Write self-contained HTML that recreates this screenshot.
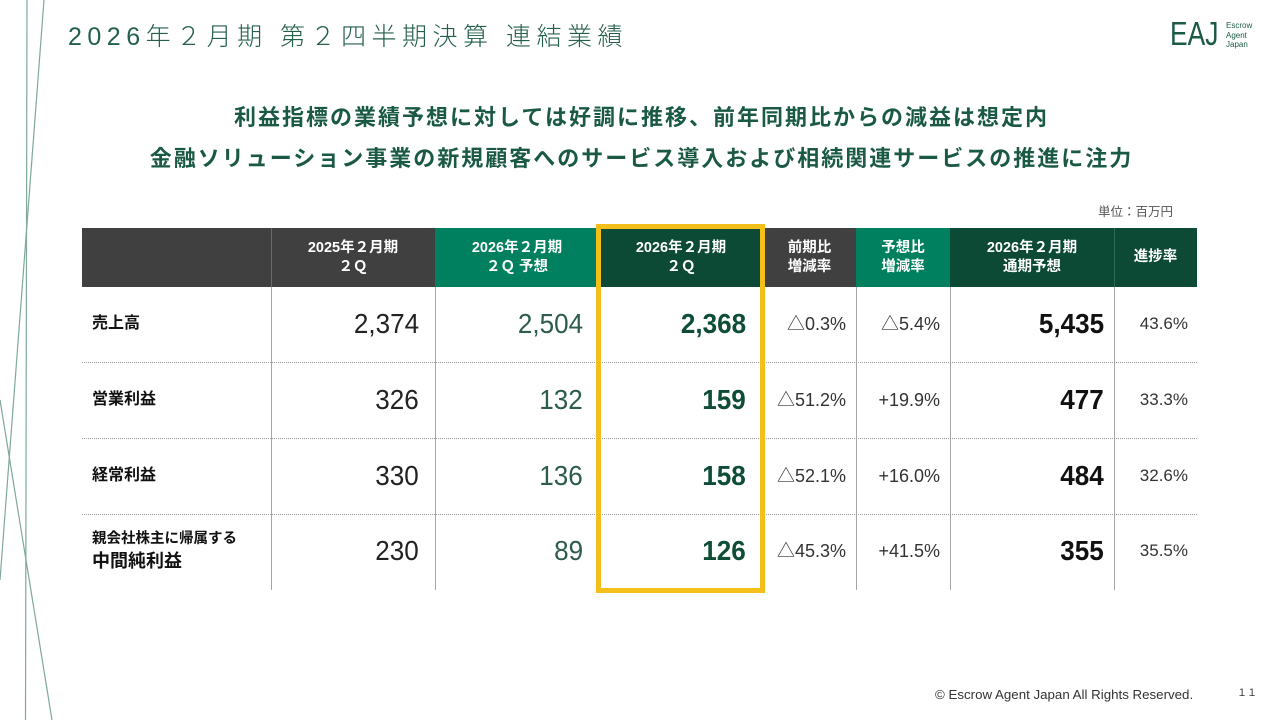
<!DOCTYPE html>
<html><head><meta charset="utf-8">
<style>
html,body{margin:0;padding:0;}
body{width:1280px;height:720px;background:#fff;position:relative;overflow:hidden;font-family:"Liberation Sans","Noto Sans CJK JP",sans-serif;}
.a{position:absolute;white-space:nowrap;}
.hb{position:absolute;top:228px;height:59px;}
.h{position:absolute;top:228px;height:59px;color:#fff;font-weight:bold;font-size:14.5px;line-height:19px;text-align:center;display:flex;flex-direction:column;align-items:center;justify-content:center;}
.vl{position:absolute;top:287px;height:303px;width:1px;background:#a6a6a6;}
.dl{position:absolute;left:82px;width:1115px;height:0;border-top:1px dotted #9a9a9a;}
.lab{position:absolute;left:92px;font-weight:bold;font-size:16px;color:#111;line-height:20px;}
.n{position:absolute;text-align:right;white-space:nowrap;font-size:28px;line-height:30px;}
.n span{display:inline-block;transform:scaleX(0.93);transform-origin:right center;}
.p{position:absolute;text-align:right;white-space:nowrap;font-size:18px;line-height:22px;color:#333;}
.q{position:absolute;text-align:right;white-space:nowrap;font-size:17px;line-height:22px;color:#333;}
</style></head><body>

<!-- decorative lines -->
<svg class="a" style="left:0;top:0" width="80" height="720">
<line x1="27" y1="0" x2="25.5" y2="720" stroke="#7fa898" stroke-width="1.2"/>
<line x1="44" y1="0" x2="0" y2="580" stroke="#7fa898" stroke-width="1.2"/>
<line x1="0" y1="400" x2="52" y2="720" stroke="#7fa898" stroke-width="1.2"/>
</svg>

<!-- title -->
<div class="a" style="left:68px;top:22px;font-size:25px;line-height:30px;letter-spacing:5.5px;color:#245f4c;font-weight:300;">2026年２月期 第２四半期決算 連結業績</div>

<!-- logo -->
<div class="a" style="left:1170px;top:16px;font-size:33px;line-height:36px;color:#1b5a44;transform:scaleX(0.8);transform-origin:left top;">EAJ</div>
<div class="a" style="left:1226px;top:21px;font-size:8px;line-height:9.5px;color:#1b5a44;">Escrow<br>Agent<br>Japan</div>

<!-- subtitles -->
<div class="a" style="left:0;width:1283px;top:104px;text-align:center;font-size:22px;line-height:28px;letter-spacing:2px;font-weight:bold;color:#1a5a45;">利益指標の業績予想に対しては好調に推移、前年同期比からの減益は想定内</div>
<div class="a" style="left:0;width:1283px;top:145px;text-align:center;font-size:22px;line-height:28px;letter-spacing:2px;font-weight:bold;color:#1a5a45;">金融ソリューション事業の新規顧客へのサービス導入および相続関連サービスの推進に注力</div>

<!-- unit -->
<div class="a" style="left:1098px;top:203px;font-size:12.5px;line-height:18px;color:#555;">単位：百万円</div>

<!-- header backgrounds -->
<div class="hb" style="left:82px;width:353px;background:#404040;"></div>
<div class="hb" style="left:435px;width:164px;background:#00805e;"></div>
<div class="hb" style="left:599px;width:164px;background:#0c4a36;"></div>
<div class="hb" style="left:763px;width:93px;background:#404040;"></div>
<div class="hb" style="left:856px;width:94px;background:#00805e;"></div>
<div class="hb" style="left:950px;width:247px;background:#0c4a36;"></div>
<div class="hb" style="left:271px;width:1px;background:#6a6a6a;"></div>
<div class="hb" style="left:1114px;width:1px;background:#2f6a55;"></div>

<!-- header text -->
<div class="h" style="left:271px;width:164px;"><div>2025年２月期</div><div>２Ｑ</div></div>
<div class="h" style="left:435px;width:164px;"><div>2026年２月期</div><div>２Ｑ 予想</div></div>
<div class="h" style="left:599px;width:164px;"><div>2026年２月期</div><div>２Ｑ</div></div>
<div class="h" style="left:763px;width:93px;"><div>前期比</div><div>増減率</div></div>
<div class="h" style="left:856px;width:94px;"><div>予想比</div><div>増減率</div></div>
<div class="h" style="left:950px;width:164px;"><div>2026年２月期</div><div>通期予想</div></div>
<div class="h" style="left:1114px;width:83px;"><div>進捗率</div></div>

<!-- grid lines -->
<div class="vl" style="left:271px;"></div>
<div class="vl" style="left:435px;"></div>
<div class="vl" style="left:856px;"></div>
<div class="vl" style="left:950px;"></div>
<div class="vl" style="left:1114px;"></div>
<div class="dl" style="top:362px;"></div>
<div class="dl" style="top:438px;"></div>
<div class="dl" style="top:514px;"></div>

<!-- row labels -->
<div class="lab" style="top:314px;">売上高</div>
<div class="lab" style="top:390px;">営業利益</div>
<div class="lab" style="top:466px;">経常利益</div>
<div class="lab" style="top:530px;font-size:14.5px;line-height:19px;">親会社株主に帰属する</div>
<div class="lab" style="top:550px;font-size:18px;line-height:22px;">中間純利益</div>

<!-- row 1 -->
<div class="n" style="right:861px;top:309px;color:#222;"><span>2,374</span></div>
<div class="n" style="right:697px;top:309px;color:#2d5c4c;"><span>2,504</span></div>
<div class="n" style="right:534px;top:309px;color:#0f4d36;font-weight:bold;"><span>2,368</span></div>
<div class="p" style="right:434px;top:313px;">△0.3%</div>
<div class="p" style="right:340px;top:313px;">△5.4%</div>
<div class="n" style="right:176px;top:309px;color:#111;font-weight:bold;"><span>5,435</span></div>
<div class="q" style="right:92px;top:313px;">43.6%</div>

<!-- row 2 -->
<div class="n" style="right:861px;top:385px;color:#222;"><span>326</span></div>
<div class="n" style="right:697px;top:385px;color:#2d5c4c;"><span>132</span></div>
<div class="n" style="right:534px;top:385px;color:#0f4d36;font-weight:bold;"><span>159</span></div>
<div class="p" style="right:434px;top:389px;">△51.2%</div>
<div class="p" style="right:340px;top:389px;">+19.9%</div>
<div class="n" style="right:176px;top:385px;color:#111;font-weight:bold;"><span>477</span></div>
<div class="q" style="right:92px;top:389px;">33.3%</div>

<!-- row 3 -->
<div class="n" style="right:861px;top:461px;color:#222;"><span>330</span></div>
<div class="n" style="right:697px;top:461px;color:#2d5c4c;"><span>136</span></div>
<div class="n" style="right:534px;top:461px;color:#0f4d36;font-weight:bold;"><span>158</span></div>
<div class="p" style="right:434px;top:465px;">△52.1%</div>
<div class="p" style="right:340px;top:465px;">+16.0%</div>
<div class="n" style="right:176px;top:461px;color:#111;font-weight:bold;"><span>484</span></div>
<div class="q" style="right:92px;top:465px;">32.6%</div>

<!-- row 4 -->
<div class="n" style="right:861px;top:536px;color:#222;"><span>230</span></div>
<div class="n" style="right:697px;top:536px;color:#2d5c4c;"><span>89</span></div>
<div class="n" style="right:534px;top:536px;color:#0f4d36;font-weight:bold;"><span>126</span></div>
<div class="p" style="right:434px;top:540px;">△45.3%</div>
<div class="p" style="right:340px;top:540px;">+41.5%</div>
<div class="n" style="right:176px;top:536px;color:#111;font-weight:bold;"><span>355</span></div>
<div class="q" style="right:92px;top:540px;">35.5%</div>

<!-- highlight box -->
<div class="a" style="left:596px;top:224px;width:169px;height:369px;box-sizing:border-box;border:5px solid #f5bf1b;"></div>

<!-- footer -->
<div class="a" style="left:935px;top:686px;font-size:13.3px;line-height:18px;color:#333;">© Escrow Agent Japan All Rights Reserved.</div>
<div class="a" style="left:1237px;top:686px;font-size:10px;line-height:16px;color:#333;">１１</div>

</body></html>
